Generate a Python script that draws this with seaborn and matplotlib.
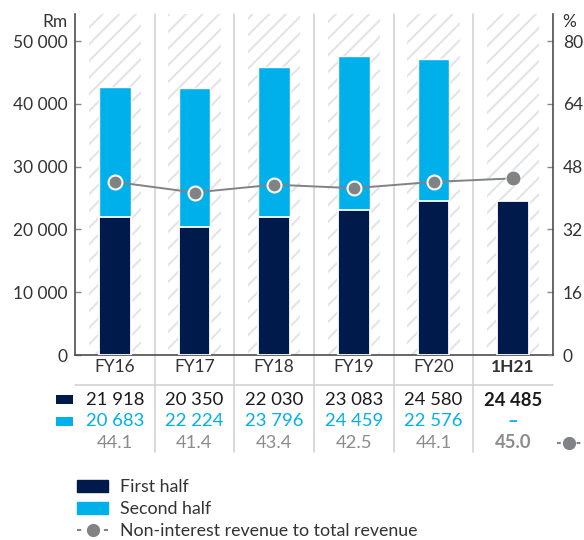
import numpy as np
import matplotlib
matplotlib.use("Agg")
import matplotlib.pyplot as plt
import matplotlib.transforms as mtransforms
from matplotlib.lines import Line2D
from matplotlib.patches import Patch, Rectangle
import seaborn as sns

# Data
periods = ["FY16", "FY17", "FY18", "FY19", "FY20", "1H21"]
first_half = [21918, 20350, 22030, 23083, 24580, 24485]
second_half = [20683, 22224, 23796, 24459, 22576, np.nan]
nir_ratio = [44.1, 41.4, 43.4, 42.5, 44.1, 45.0]

left_ticks = [0, 10000, 20000, 30000, 40000, 50000]
right_ticks = [0, 16, 32, 48, 64, 80]

NAVY = "#001a4b"
CYAN = "#00b0ea"
GREY = "#808285"
TEXT = "#333333"
LINE = "#cfd0d3"
HATCH = "#e3e4e7"

sns.set_style("white")
plt.rcParams["font.family"] = ["Lato", "DejaVu Sans"]
plt.rcParams["font.size"] = 12.5
plt.rcParams["hatch.linewidth"] = 1.5
plt.rcParams["hatch.color"] = HATCH

fig = plt.figure(figsize=(5.84, 5.40), dpi=100)
ax = fig.add_axes([75 / 584, 1 - 355 / 540, 478 / 584, 341 / 540])
ax2 = ax.twinx()

ymax = 54300
ax.set_ylim(0, ymax)
ax2.set_ylim(0, ymax * 80 / 50000)

# hatched background columns
ax.bar(range(len(periods)), ymax, width=0.66, color="white",
       edgecolor=HATCH, hatch="//", linewidth=0, zorder=0)

# stacked bars: total (cyan) underneath, first half (navy) on top
totals = [f + (0 if np.isnan(s) else s) for f, s in zip(first_half, second_half)]
sns.barplot(x=periods, y=totals, color=CYAN, saturation=1, width=0.4,
            ax=ax, zorder=2)
sns.barplot(x=periods, y=first_half, color=NAVY, saturation=1, width=0.4,
            edgecolor="white", linewidth=1.3, ax=ax, zorder=3)

# ratio line on the right axis
sns.pointplot(x=periods, y=nir_ratio, ax=ax2, color=GREY, errorbar=None,
              markers="o", markersize=10, linewidth=1.4,
              markeredgecolor="white", markeredgewidth=1.5)
ax2.plot(len(periods) - 1, nir_ratio[-1], "o", color=GREY, markersize=10,
         markeredgewidth=0, zorder=5)

ax.set_xlim(-0.5, len(periods) - 0.5)
ax2.set_xlim(-0.5, len(periods) - 0.5)

# axes styling
for a in (ax, ax2):
    a.set_xlabel("")
    a.set_ylabel("")
    a.tick_params(axis="x", bottom=False, labelbottom=False)
    for s in a.spines.values():
        s.set_visible(False)
ax.spines["left"].set_visible(True)
ax.spines["bottom"].set_visible(True)
ax2.spines["right"].set_visible(True)
for s in (ax.spines["left"], ax.spines["bottom"], ax2.spines["right"]):
    s.set_color("#4d4d4d")
    s.set_linewidth(1.2)

ax.set_yticks(left_ticks)
ax.set_yticklabels([f"{v:,}".replace(",", " ") for v in left_ticks])
ax.tick_params(axis="y", direction="in", length=4.5, width=1, color="#888888",
               pad=5.5, labelcolor=TEXT, labelsize=12.5)
ax2.set_yticks(right_ticks)
ax2.tick_params(axis="y", direction="in", length=4.5, width=1, color="#888888",
                pad=7, labelcolor=TEXT, labelsize=12.5)
ax.text(-0.016, 0.977, "Rm", transform=ax.transAxes, ha="right", va="center",
        color=TEXT, fontsize=12.5)
ax2.text(1.02, 0.977, "%", transform=ax.transAxes, ha="left", va="center",
         color=TEXT, fontsize=12.5)

# column separators, running down through the table
blend = mtransforms.blended_transform_factory(ax.transData, ax.transAxes)
for b in np.arange(0.5, len(periods) - 0.5):
    ax.add_line(Line2D([b, b], [1, -0.285], transform=blend, color=LINE,
                       lw=1.1, clip_on=False, zorder=1))
ax.add_line(Line2D([0, 1], [-0.088, -0.088], transform=ax.transAxes,
                   color=LINE, lw=1.1, clip_on=False))

# table under the chart
row_y = {"cat": -0.036, "h1": -0.132, "h2": -0.194, "pct": -0.258}
last = len(periods) - 1
for i, p in enumerate(periods):
    bold = "bold" if i == last else "normal"
    ax.text(i, row_y["cat"], p, transform=blend, ha="center", va="center",
            color=TEXT, fontweight=bold, fontsize=12.5)
    ax.text(i, row_y["h1"], f"{first_half[i]:,}".replace(",", " "),
            transform=blend, ha="center", va="center", color="#1a1a1a",
            fontweight=bold, fontsize=13.3)
    s = second_half[i]
    s_txt = "–" if np.isnan(s) else f"{int(s):,}".replace(",", " ")
    ax.text(i, row_y["h2"], s_txt, transform=blend, ha="center", va="center",
            color=CYAN, fontweight=bold, fontsize=13.3)
    ax.text(i, row_y["pct"], f"{nir_ratio[i]:.1f}", transform=blend,
            ha="center", va="center", color="#8c8c8c", fontweight=bold,
            fontsize=13.3)

# series keys in the table
fig.add_artist(Rectangle((56 / 584, 1 - 404 / 540), 17 / 584, 9 / 540,
                         color=NAVY, lw=0))
fig.add_artist(Rectangle((56 / 584, 1 - 426 / 540), 17 / 584, 9 / 540,
                         color=CYAN, lw=0))
yk = 1 - 443 / 540
fig.add_artist(Line2D([557 / 584, 581 / 584], [yk, yk], color=GREY, lw=1.5,
                      dashes=(1.8, 7.6)))
fig.add_artist(Line2D([569 / 584], [yk], marker="o", color=GREY,
                      markersize=8.5, lw=0))

# legend
handles = [
    Patch(color=NAVY, label="First half"),
    Patch(color=CYAN, label="Second half"),
    Line2D([], [], color=GREY, lw=1.5, dashes=(2.0, 10.9), marker="o",
           markersize=8.5, label="Non-interest revenue to total revenue"),
]
fig.legend(handles=handles, loc="upper left",
           bbox_to_anchor=(70 / 584, 1 - 472 / 540), frameon=False,
           handlelength=1.75, handleheight=0.68, handletextpad=0.65,
           labelspacing=0.34, fontsize=12.75, labelcolor=TEXT, numpoints=1,
           borderaxespad=0)

fig.savefig("out.png", dpi=100)
